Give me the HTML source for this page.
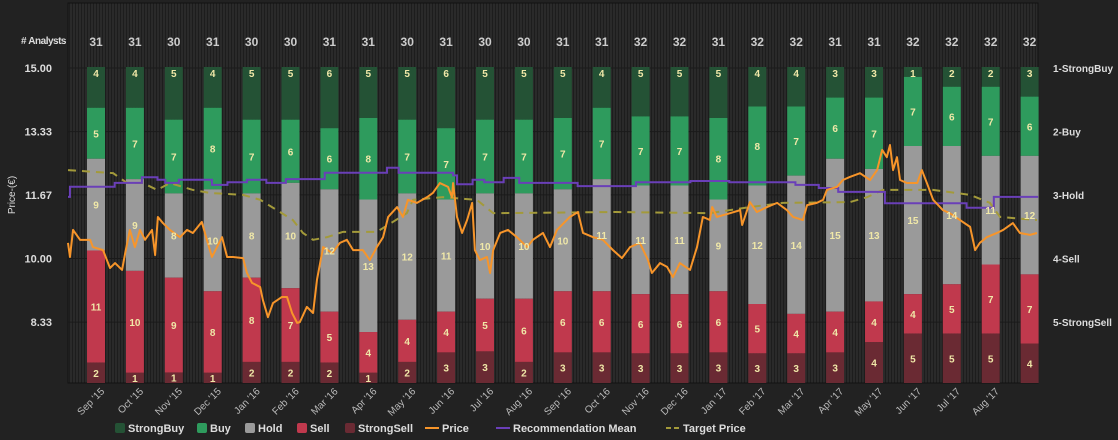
<!DOCTYPE html>
<html><head><meta charset="utf-8">
<style>
html,body{margin:0;padding:0;background:#222;width:1118px;height:440px;overflow:hidden;font-family:"Liberation Sans",sans-serif}
svg{display:block}
</style></head>
<body>
<svg id="chart" width="1118" height="440" xmlns="http://www.w3.org/2000/svg">
<defs>
<pattern id="stripes" width="3" height="10" patternUnits="userSpaceOnUse">
<rect width="3" height="10" fill="#2a2a2a"/><rect width="1" height="10" fill="#1d1d1d"/>
</pattern>
</defs>
<rect x="68" y="3" width="970" height="380" fill="url(#stripes)" stroke="#111" stroke-width="1"/>
<g id="bars"></g>
<g id="lines"></g>
<g id="labels"></g>
<text x="66" y="44" text-anchor="end" fill="#ddd" font-size="10" font-weight="bold" letter-spacing="-0.5">#&#160;Analysts</text>
<text transform="translate(15,195) rotate(-90)" text-anchor="middle" fill="#ddd" font-size="10">Price-(€)</text>
</svg>
<script>
const months=["Sep '15","Oct '15","Nov '15","Dec '15","Jan '16","Feb '16","Mar '16","Apr '16","May '16","Jun '16","Jul '16","Aug '16","Sep '16","Oct '16","Nov '16","Dec '16","Jan '17","Feb '17","Mar '17","Apr '17","May '17","Jun '17","Jul '17","Aug '17"];
const strongBuy=[4,4,5,4,5,5,6,5,5,6,5,5,5,4,5,5,5,4,4,3,3,1,2,2,3];
const buy=[5,7,7,8,7,6,6,8,7,7,7,7,7,7,7,7,8,8,7,6,7,7,6,7,6];
const hold=[9,9,8,10,8,10,12,13,12,11,10,10,10,11,11,11,9,12,14,15,13,15,14,11,12];
const sell=[11,10,9,8,8,7,5,4,4,4,5,6,6,6,6,6,6,5,4,4,4,4,5,7,7];
const strongSell=[2,1,1,1,2,2,2,1,2,3,3,2,3,3,3,3,3,3,3,3,4,5,5,5,4];
const priceTicks=[15.00,13.33,11.67,10.00,8.33];
const recTicks=["1-StrongBuy","2-Buy","3-Hold","4-Sell","5-StrongSell"];
const priceT=[0,.05,.13,.31,.57,.64,.9,1.08,1.21,1.39,1.47,1.59,1.72,1.85,1.98,2.16,2.24,2.31,2.44,2.62,2.88,3.06,3.21,3.44,3.57,3.7,3.96,4.09,4.24,4.5,4.6,4.73,4.94,5.01,5.14,5.27,5.5,5.63,5.76,5.89,5.96,6.14,6.3,6.4,6.56,6.79,6.99,7.17,7.33,7.58,7.76,7.94,8.1,8.23,8.46,8.61,8.74,8.97,9.23,9.38,9.56,9.77,9.87,9.9,10,10.13,10.26,10.39,10.46,10.59,10.77,10.85,10.93,11.11,11.31,11.54,11.8,11.95,12.21,12.39,12.57,12.9,13.11,13.24,13.5,13.75,14.01,14.24,14.45,14.7,14.91,15.01,15.22,15.4,15.55,15.73,15.99,16.17,16.32,16.5,16.56,16.68,17.02,17.28,17.33,17.46,17.53,17.71,17.97,18.23,18.48,18.64,18.89,19,19.25,19.41,19.51,19.77,19.92,20.1,20.36,20.62,20.8,20.93,21.05,21.13,21.21,21.31,21.39,21.57,21.83,21.95,22.08,22.24,22.49,22.67,22.93,23.19,23.32,23.44,23.62,23.88,24.04,24.29,24.47,24.73,24.91];
const priceV=[10.41,10.04,10.75,10.49,10.49,10.3,10.22,9.75,9.88,9.7,10.14,10.75,10.3,10.75,10.49,10.75,10.09,11.09,10.93,10.75,10.56,10.75,10.67,10.96,10.49,10.04,10.56,10.04,10.04,10.01,9.62,9.36,9.25,8.91,8.46,8.83,8.99,8.99,8.57,8.31,8.33,8.73,8.57,9.44,10.3,10.14,10.41,10.49,10.22,10.22,9.96,10.3,10.56,11.09,11.35,11.09,11.54,11.46,11.61,11.72,11.98,11.88,11.61,11.98,11.09,10.67,11.01,11.46,10.22,9.96,10.04,9.62,10.22,10.67,10.75,10.56,10.3,10.49,10.67,10.3,10.75,11.09,11.22,10.67,10.56,10.49,10.22,10.01,10.3,10.41,9.96,9.62,9.88,9.78,9.51,9.88,9.7,10.3,11.09,11.01,11.35,11.09,11.19,11.27,10.88,11.27,11.48,11.22,11.35,11.46,11.27,11.09,11.01,11.4,11.46,11.54,11.8,11.88,12.06,12.14,12.24,12.06,12.32,12.85,12.66,12.98,12.32,12.66,12.06,11.98,11.98,12.32,11.98,11.54,11.27,11.19,11.01,10.83,10.22,10.41,10.56,10.67,10.75,10.93,10.67,10.62,10.67];
const meanT=[0,.05,1.2,1.9,2.3,2.5,2.85,3.7,4.1,4.6,5.1,5.6,6.6,8.2,8.5,9.9,10.0,10.4,10.7,11.2,11.6,13.1,14.6,16.0,17.0,18.7,19.3,19.8,21.0,23.1,23.8,24.94];
const meanV=[3.03,2.87,2.81,2.72,2.76,2.81,2.76,2.84,2.80,2.76,2.81,2.75,2.65,2.57,2.65,2.69,2.83,2.76,2.80,2.73,2.81,2.86,2.80,2.78,2.80,2.84,2.89,2.95,3.13,3.20,3.03,3.03];
const targetT=[0,1.16,1.52,1.93,2.29,2.62,3.21,3.65,4.5,4.94,5.37,5.78,6.04,6.3,6.66,7.07,7.94,8.35,8.71,8.87,9.64,10.51,10.93,14.11,16.5,17.53,18.38,20.1,20.54,20.95,22.24,23.19,23.7,23.96,24.91];
const targetV=[12.32,12.24,11.98,11.98,11.8,11.98,11.8,11.72,11.67,11.54,11.27,11.01,10.67,10.49,10.56,10.7,10.7,10.96,11.19,11.54,11.61,11.54,11.19,11.22,11.19,11.35,11.46,11.48,11.61,11.8,11.8,11.67,11.46,11.09,11.01];

const NS="http://www.w3.org/2000/svg";
const X0=68,PX=38.9,BARW=18,TOP=67,BOT=383;
const xT=t=>X0+t*PX;
const yP=p=>68+(15-p)*38.1;
const yR=r=>68+(r-1)*63.5;
function mk(tag,attrs,parent){const e=document.createElementNS(NS,tag);for(const k in attrs)e.setAttribute(k,attrs[k]);parent.appendChild(e);return e;}
const svg=document.getElementById('chart');
const gB=document.getElementById('bars'),gL=document.getElementById('lines'),gT=document.getElementById('labels');
// grid lines
priceTicks.forEach((p,i)=>{
 const l=mk('line',{x1:X0,x2:1038,y1:yP(p),y2:yP(p),stroke:'#1a1a1a','stroke-width':1},gB);
 
 
 const t=mk('text',{x:52,y:yP(p)+4,'text-anchor':'end',fill:'#ddd','font-size':11,'font-weight':'bold'},svg);
 t.textContent=p.toFixed(2);
 
 
 const r=mk('text',{x:1053,y:yR(i+1)+4,fill:'#ddd','font-size':10,'font-weight':'bold'},svg);
 r.textContent=recTicks[i];
 
 
});
const series=[[strongBuy,'#245235','strongbuy'],[buy,'#2e9b5d','buy'],[hold,'#9a9a9a','hold'],[sell,'#c0394d','sell'],[strongSell,'#6a2a33','strongsell']];
strongBuy.forEach((_,i)=>{
 const total=series.reduce((s,a)=>s+a[0][i],0);
 const cx=xT(i+0.72);
 let y=TOP;const h=BOT-TOP;
 const c=mk('text',{x:cx,y:46,'text-anchor':'middle',fill:'#ccc','font-size':12,'font-weight':'bold'},gT);
 c.textContent=total;
 
 
 series.forEach(([arr,col,nm])=>{
  const sh=arr[i]/total*h;
  const r=mk('rect',{x:cx-BARW/2,y:y,width:BARW,height:sh,fill:col},gB);
  
  
  const ty=(nm==='strongbuy')?y+9:(nm==='strongsell'?y+sh/2+4:y+sh/2+4);
  const tx=mk('text',{x:cx,y:nm==='strongbuy'?y+10:ty,'text-anchor':'middle',fill:'#f0e8a8','font-size':10,'font-weight':'bold'},gT);
  tx.textContent=arr[i];
  
  
  y+=sh;
 });
 if(i<months.length){
  const m=mk('text',{transform:`translate(${cx+9},${392}) rotate(-45)`,'text-anchor':'end',fill:'#bbb','font-size':10},gT);
  m.textContent=months[i];
  
  
 }
});
function path(T,V,yf,step){let d='';T.forEach((t,i)=>{const x=xT(t),y=yf(V[i]);if(i===0)d='M'+x+','+y;else if(step)d+=' H'+x+' V'+y;else d+=' L'+x+','+y;});return d;}
const tp=mk('path',{d:path(targetT,targetV,yP,false),fill:'none',stroke:'#a39a3a','stroke-width':2,'stroke-dasharray':'8,6'},gL);


const mp=mk('path',{d:path(meanT,meanV,yR,true),fill:'none',stroke:'#6a3fb8','stroke-width':2},gL);


const pp=mk('path',{d:path(priceT,priceV,yP,false),fill:'none',stroke:'#f7952a','stroke-width':2,'stroke-linejoin':'round'},gL);


// legend
const leg=[['StrongBuy','#245235','box',115],['Buy','#2e9b5d','box',197],['Hold','#9a9a9a','box',245],['Sell','#c0394d','box',297],['StrongSell','#6a2a33','box',345],['Price','#f7952a','line',425],['Recommendation Mean','#6a3fb8','line',496],['Target Price','#a39a3a','dash',666]];
leg.forEach(([nm,col,kind,x])=>{
 const g=mk('g',{},svg);
 
 
 if(kind==='box')mk('rect',{x:x,y:423,width:10,height:10,rx:2,fill:col},g);
 else mk('line',{x1:x,x2:x+14,y1:428,y2:428,stroke:col,'stroke-width':2,'stroke-dasharray':kind==='dash'?'5,3':'none'},g);
 const t=mk('text',{x:x+(kind==='box'?13:17),y:432,fill:'#ddd','font-size':11,'font-weight':'bold'},g);
 t.textContent=nm;
});
</script>
</body></html>
